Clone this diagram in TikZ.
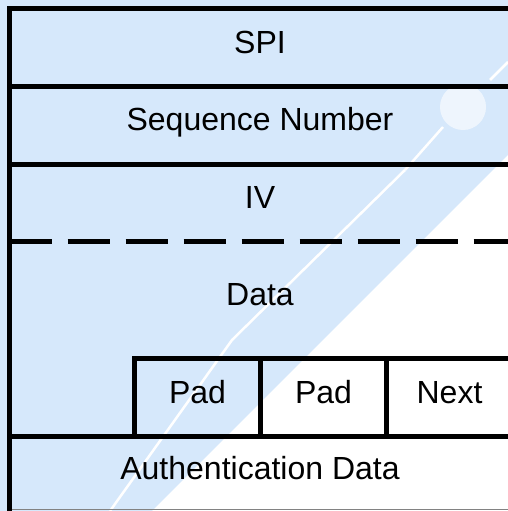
\documentclass[tikz,border=0pt]{standalone}
\usepackage{fontspec}
\setmainfont{Liberation Sans}
\definecolor{wmblue}{RGB}{214,232,251}
\definecolor{edgegray}{RGB}{130,130,130}
\tikzset{
  rule/.style={draw=black, line width=5pt},
  dashrule/.style={draw=black, line width=5pt, dash pattern=on 42pt off 16pt},
  label/.style={font=\fontsize{32}{38}\selectfont, anchor=base, inner sep=0pt, text=black},
}
\begin{document}
\begin{tikzpicture}[x=1pt,y=-1pt]
\useasboundingbox (0,0) rectangle (508,511);
% background watermark (approximation)
\fill[wmblue] (0,0) rectangle (508,511);
\fill[white] (508,155) -- (508,511) -- (152,511) -- cycle;
\draw[white, line width=2.5pt] (405,170) -- (232,340) -- (110,511);
\draw[white, line width=2.5pt] (443,127) -- (405,170);
\draw[white, line width=2.5pt] (490,80) -- (508,62);
\fill[white, opacity=0.6] (463,107) circle (23);
% structure
\coordinate (tr) at (508,9);
\coordinate (tl) at (9.5,9);
\coordinate (bl) at (9.5,511);
\coordinate (l1) at (9.5,86);   \coordinate (r1) at (508,86);
\coordinate (l2) at (9.5,164);  \coordinate (r2) at (508,164);
\coordinate (l3) at (9.5,241);  \coordinate (r3) at (508,241);
\coordinate (pb) at (134.5,436); \coordinate (pt) at (134.5,358); \coordinate (rp) at (508,358);
\coordinate (v1t) at (260.5,358); \coordinate (v1b) at (260.5,436);
\coordinate (v2t) at (386.5,358); \coordinate (v2b) at (386.5,436);
\coordinate (l4) at (9.5,436);  \coordinate (r4) at (508,436);
\coordinate (l5) at (9.5,509.5); \coordinate (r5) at (508,509.5);

\draw[edgegray, line width=1pt] (l5) -- (r5);
\draw[rule] (tr) -- (tl) -- (bl);
\draw[rule] (l1) -- (r1);
\draw[rule] (l2) -- (r2);
\draw[dashrule] (l3) -- (r3);
\draw[rule] (pb) -- (pt) -- (rp);
\draw[rule] (v1t) -- (v1b);
\draw[rule] (v2t) -- (v2b);
\draw[rule] (l4) -- (r4);

\node[label] (spi) at (260,53.3) {SPI};
\node[label] (seq) at (260,130) {Sequence Number};
\node[label] (iv) at (260,208) {IV};
\node[label] (data) at (260,305) {Data};
\node[label] (pad1) at (197.5,403) {Pad};
\node[label] (pad2) at (323.5,403) {Pad};
\node[label] (next) at (449.5,403) {Next};
\node[label] (auth) at (260,479) {Authentication Data};
\end{tikzpicture}
\end{document}
